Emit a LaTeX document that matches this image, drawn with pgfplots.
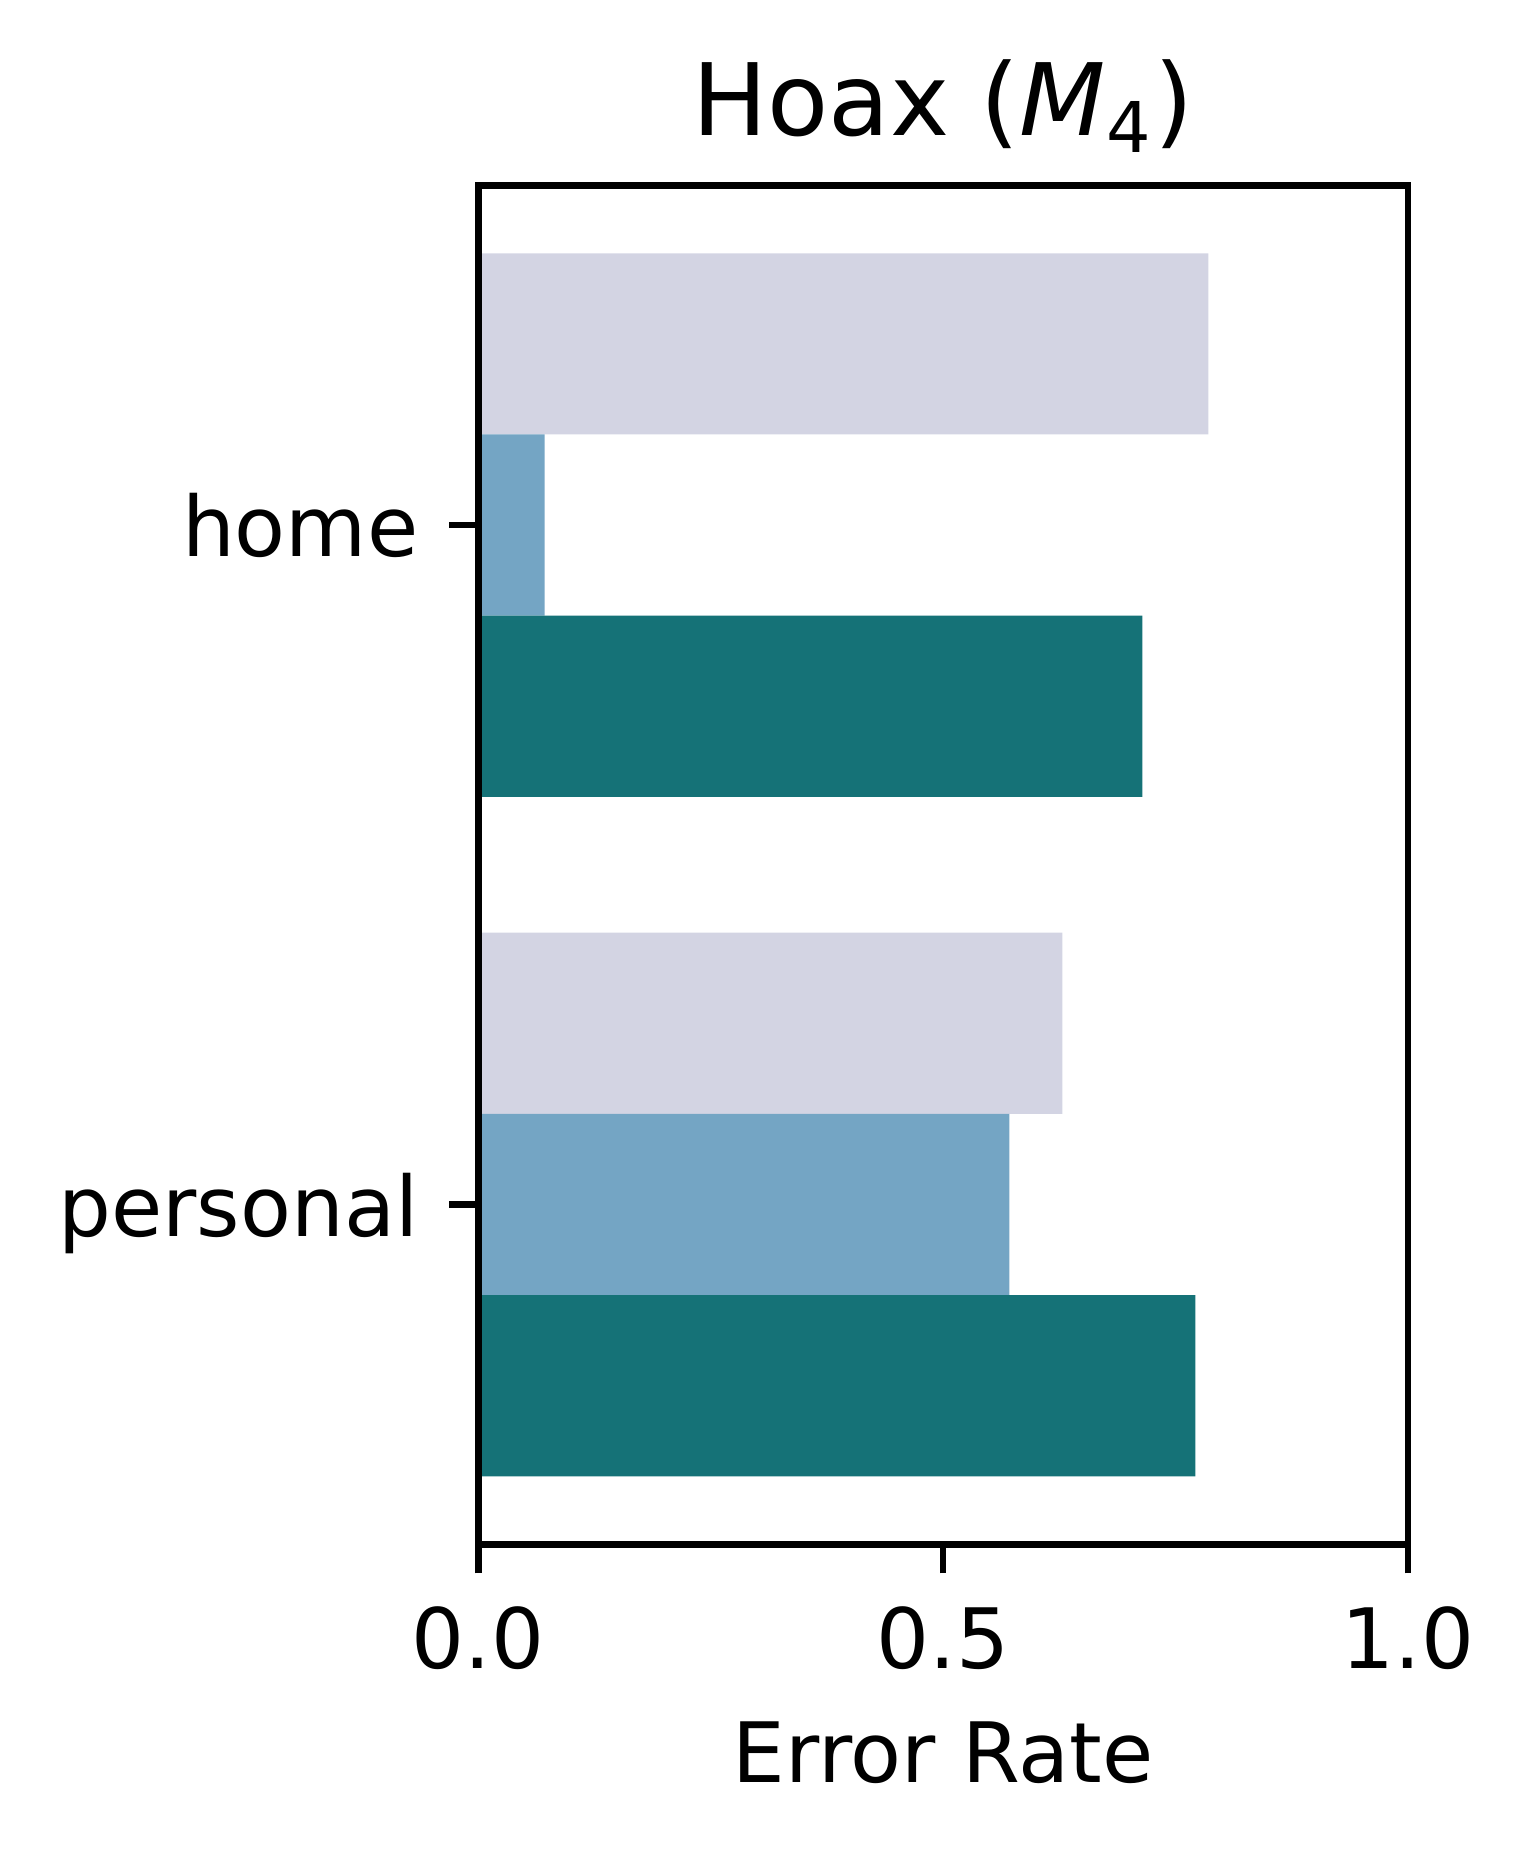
\documentclass[border=0pt]{standalone}
\usepackage{fontspec}
\setmainfont{DejaVu Sans}
\usepackage{pgfplots}
\pgfplotsset{compat=1.18}
\definecolor{cLight}{RGB}{211,212,227}
\definecolor{cBlue}{RGB}{116,165,196}
\definecolor{cTeal}{RGB}{21,114,119}
\begin{document}
\begin{tikzpicture}
\begin{axis}[
  scale only axis,
  width=111.6bp, height=163.1bp,
  axis on top,
  xbar, bar width=0.26667,
  xmin=0, xmax=1,
  ymin=-0.5, ymax=1.5, y dir=reverse,
  ytick={0,1}, yticklabels={home,personal},
  xtick={0,0.5,1}, xticklabels={0.0,0.5,1.0},
  tick align=outside, xtick pos=bottom, ytick pos=left,
  major tick length=3.5bp,
  every tick/.style={black, line width=0.8bp},
  axis line style={line width=0.8bp},
  /pgf/number format/assume math mode=true,
  xticklabel style={font=\fontsize{10bp}{12bp}\selectfont, anchor=north, inner sep=0pt, yshift=-3.8bp},
  yticklabel style={font=\fontsize{10bp}{12bp}\selectfont, anchor=base east, inner sep=0pt, xshift=-3.5bp, yshift=-3.8bp},
  title={Hoax (\textit{M}\textsubscript{4})},
  title style={font=\fontsize{12bp}{14bp}\selectfont, at={(0.5,1)}, anchor=base, yshift=0bp, inner sep=0pt},
  xlabel={Error Rate},
  xlabel style={font=\fontsize{10bp}{12bp}\selectfont, at={(0.5,0)}, anchor=base, yshift=-28.6bp, inner sep=0pt},
  clip=false,
]
\addplot[fill=cLight, draw=none, bar shift=-0.26667] coordinates {(0.7852,0) (0.6283,1)};
\addplot[fill=cBlue, draw=none, bar shift=0] coordinates {(0.0714,0) (0.5713,1)};
\addplot[fill=cTeal, draw=none, bar shift=0.26667] coordinates {(0.7143,0) (0.7712,1)};
\coordinate (bl) at (axis description cs:0,0);
\coordinate (tr) at (axis description cs:1,1);
\end{axis}
\pgfresetboundingbox
\path[use as bounding box] ([shift={(-57.4bp,-37.66bp)}]bl) rectangle ([shift={(15.06bp,22.24bp)}]tr);
\end{tikzpicture}
\end{document}
